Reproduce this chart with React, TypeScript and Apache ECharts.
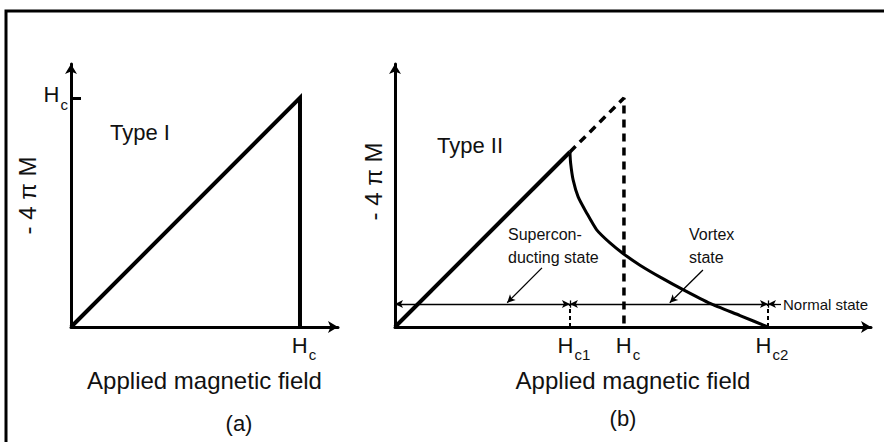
import React, { useEffect, useRef } from "react";
import * as echarts from "echarts";

// Field values in units of the thermodynamic critical field Hc
const HC = 1;
const HC1 = 0.764;
const HC2 = 1.629;

// Axis extents (same field scale in both panels)
const X_MAX_A = 1.166;
const X_MAX_B = 2.079;
const Y_MAX = 1.148;

// Type I: -4πM follows H up to Hc, then collapses to zero
const typeIPath = [
  [0, 0],
  [HC, HC],
  [HC, 0],
];

// Type II: Meissner branch up to Hc1
const meissnerPath = [
  [0, 0],
  [HC1, HC1],
];

// Type II: continuation of the Meissner branch up to Hc (dashed)
const extensionPath = [
  [HC1, HC1],
  [HC, HC],
  [HC, 0],
];

// Type II: mixed-state magnetization between Hc1 and Hc2
const vortexCurve = [
  [0.764, 0.764],
  [0.767, 0.716],
  [0.778, 0.642],
  [0.8, 0.568],
  [0.837, 0.498],
  [0.881, 0.424],
  [0.939, 0.367],
  [0.996, 0.321],
  [1.07, 0.27],
  [1.17, 0.211],
  [1.258, 0.163],
  [1.376, 0.103],
  [1.507, 0.05],
  [1.629, 0],
];

// Tick labels
const ticksA = [HC];
const subsA = ["c"];
const ticksB = [HC1, HC, HC2];
const subsB = ["c1", "c", "c2"];

// Level of the state ranges bar and where the "Normal state" pointer ends
const STATE_BAR = 0.1;
const NORMAL_END = 1.686;

// Pointers from the annotations to the state bar: [from, to]
const superPointer = [
  [0.642, 0.258],
  [0.49, 0.106],
];
const vortexPointer = [
  [1.345, 0.249],
  [1.2, 0.106],
];

const FONT = "'Liberation Sans', Arial, Helvetica, sans-serif";
const INK = "#111";

// "H" with a lowered subscript
const richH = {
  h: { fontSize: 22, fontFamily: FONT, color: INK, verticalAlign: "top" },
  s: {
    fontSize: 15,
    fontFamily: FONT,
    color: INK,
    verticalAlign: "top",
    padding: [13, 0, 0, 1],
  },
};

function hFormatter(values: number[], subs: string[]) {
  return (v: number) => {
    const i = values.findIndex((x) => Math.abs(x - v) < 1e-6);
    return i < 0 ? "" : `{h|H}{s|${subs[i]}}`;
  };
}

const axisLine = {
  onZero: false,
  symbol: ["none", "arrow"],
  symbolSize: [9, 10],
  lineStyle: { color: "#000", width: 3 },
};

const nameStyle = { fontSize: 24, fontFamily: FONT, color: INK };

function thin(from: number[], to: number[], s0: string, s1: string) {
  return [
    { coord: from, symbol: s0, symbolSize: [6, 8] },
    { coord: to, symbol: s1, symbolSize: [6, 8] },
  ];
}

export default function App() {
  const ref = useRef<HTMLDivElement>(null);

  useEffect(() => {
    if (!ref.current) return;
    const chart = echarts.init(ref.current, null, { renderer: "svg" });

    const solidThin = { color: "#000", width: 1.3, type: "solid" };
    const dashedShort = { color: "#000", width: 2, type: [4, 3] };

    chart.setOption({
      animation: false,
      backgroundColor: "#fff",
      grid: [
        { left: 71, top: 64, width: 267, height: 263 },
        { left: 395, top: 64, width: 476, height: 263 },
      ],
      xAxis: [
        {
          type: "value",
          gridIndex: 0,
          min: 0,
          max: X_MAX_A,
          splitLine: { show: false },
          axisLine,
          axisTick: { show: false },
          axisLabel: {
            customValues: ticksA,
            formatter: hFormatter(ticksA, subsA),
            rich: richH,
            margin: 7,
            padding: [0, 0, 0, 8],
          },
          name: "Applied magnetic field",
          nameLocation: "middle",
          nameGap: 41,
          nameTextStyle: nameStyle,
        },
        {
          type: "value",
          gridIndex: 1,
          min: 0,
          max: X_MAX_B,
          splitLine: { show: false },
          axisLine,
          axisTick: { show: false },
          axisLabel: {
            customValues: ticksB,
            formatter: hFormatter(ticksB, subsB),
            rich: richH,
            margin: 7,
            padding: [0, 0, 0, 8],
          },
          name: "Applied magnetic field",
          nameLocation: "middle",
          nameGap: 41,
          nameTextStyle: nameStyle,
        },
      ],
      yAxis: [
        {
          type: "value",
          gridIndex: 0,
          min: 0,
          max: Y_MAX,
          splitLine: { show: false },
          axisLine,
          axisTick: {
            show: true,
            customValues: ticksA,
            inside: true,
            length: 10,
            lineStyle: { color: "#000", width: 3 },
          },
          axisLabel: {
            customValues: ticksA,
            formatter: hFormatter(ticksA, subsA),
            rich: richH,
            margin: 3,
          },
          name: "- 4 π M",
          nameLocation: "middle",
          nameRotate: 90,
          nameGap: 10,
          nameTextStyle: nameStyle,
        },
        {
          type: "value",
          gridIndex: 1,
          min: 0,
          max: Y_MAX,
          splitLine: { show: false },
          axisLine,
          axisTick: { show: false },
          axisLabel: { show: false },
          name: "- 4 π M",
          nameLocation: "middle",
          nameRotate: 90,
          nameGap: 10,
          nameTextStyle: { ...nameStyle, padding: [0, 0, 0, 28] },
        },
      ],
      series: [
        {
          type: "line",
          xAxisIndex: 0,
          yAxisIndex: 0,
          data: typeIPath,
          symbol: "none",
          lineStyle: { color: "#000", width: 4, cap: "butt", join: "miter" },
        },
        {
          type: "line",
          xAxisIndex: 1,
          yAxisIndex: 1,
          data: meissnerPath,
          symbol: "none",
          lineStyle: { color: "#000", width: 4, cap: "butt" },
          markLine: {
            silent: true,
            animation: false,
            label: { show: false },
            lineStyle: solidThin,
            data: [
              thin([0, STATE_BAR], [HC1, STATE_BAR], "arrow", "arrow"),
              thin([HC1, STATE_BAR], [HC2, STATE_BAR], "arrow", "arrow"),
              thin([HC2, STATE_BAR], [NORMAL_END, STATE_BAR], "arrow", "none"),
              thin([HC1, STATE_BAR - 0.016], [HC1, STATE_BAR + 0.016], "none", "none"),
              thin([HC2, STATE_BAR - 0.016], [HC2, STATE_BAR + 0.016], "none", "none"),
              thin(superPointer[0], superPointer[1], "none", "arrow"),
              thin(vortexPointer[0], vortexPointer[1], "none", "arrow"),
              [
                { coord: [HC1, 0], symbol: "none", lineStyle: dashedShort },
                { coord: [HC1, STATE_BAR], symbol: "none" },
              ],
              [
                { coord: [HC2, 0], symbol: "none", lineStyle: dashedShort },
                { coord: [HC2, STATE_BAR], symbol: "none" },
              ],
            ],
          },
        },
        {
          type: "line",
          xAxisIndex: 1,
          yAxisIndex: 1,
          data: extensionPath,
          symbol: "none",
          lineStyle: { color: "#000", width: 3.5, type: [8, 6], cap: "butt" },
        },
        {
          type: "line",
          xAxisIndex: 1,
          yAxisIndex: 1,
          data: vortexCurve,
          symbol: "none",
          smooth: 0.2,
          lineStyle: { color: "#000", width: 3 },
        },
      ],
      graphic: [
        {
          type: "polyline",
          shape: { points: [[6, 442], [6, 11], [884, 11]] },
          style: { stroke: "#000", lineWidth: 3, fill: "none" },
        },
        {
          type: "text",
          x: 110,
          y: 132,
          style: { text: "Type I", font: `22px ${FONT}`, fill: INK, verticalAlign: "middle" },
        },
        {
          type: "text",
          x: 437,
          y: 145,
          style: { text: "Type II", font: `22px ${FONT}`, fill: INK, verticalAlign: "middle" },
        },
        {
          type: "text",
          x: 508,
          y: 246,
          style: {
            text: "Supercon-\nducting state",
            font: `16px ${FONT}`,
            lineHeight: 23,
            fill: INK,
            verticalAlign: "middle",
          },
        },
        {
          type: "text",
          x: 689,
          y: 246,
          style: {
            text: "Vortex\nstate",
            font: `16px ${FONT}`,
            lineHeight: 23,
            fill: INK,
            verticalAlign: "middle",
          },
        },
        {
          type: "text",
          x: 783,
          y: 304,
          style: { text: "Normal state", font: `15px ${FONT}`, fill: INK, verticalAlign: "middle" },
        },
        {
          type: "text",
          x: 239,
          y: 423,
          style: { text: "(a)", font: `22px ${FONT}`, fill: INK, align: "center", verticalAlign: "middle" },
        },
        {
          type: "text",
          x: 623,
          y: 418,
          style: { text: "(b)", font: `22px ${FONT}`, fill: INK, align: "center", verticalAlign: "middle" },
        },
      ],
    });

    return () => chart.dispose();
  }, []);

  return (
    <div
      ref={ref}
      style={{ position: "absolute", left: 0, top: 0, width: 884, height: 442 }}
    />
  );
}
